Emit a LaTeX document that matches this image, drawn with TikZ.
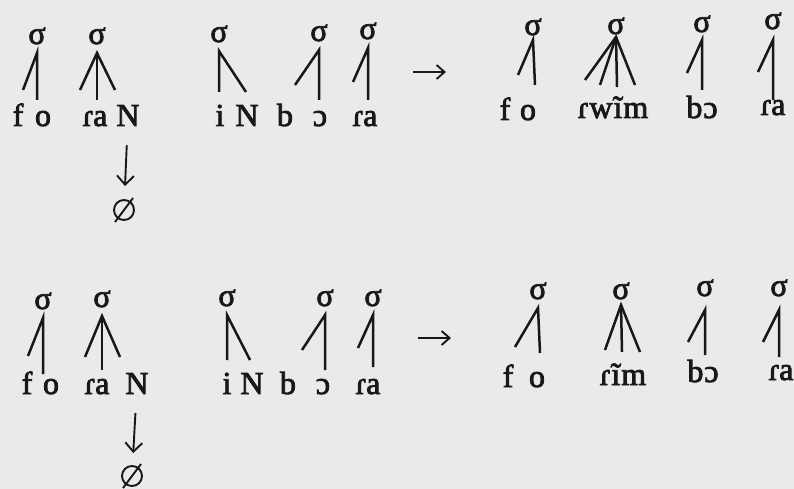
\documentclass[tikz,border=0pt]{standalone}
\usepackage{fontspec}
\setmainfont{Liberation Serif}
\usetikzlibrary{calc,arrows.meta}
\definecolor{paper}{HTML}{EAEAEA}
\definecolor{ink}{HTML}{181818}
\newcommand{\ipafnt}{\fontsize{32}{33}\selectfont\addfontfeature{FakeBold=2.5}}
\begin{document}
\begin{tikzpicture}[x=1pt,y=-1pt,
  seg/.style={font=\ipafnt, text=ink, anchor=base, inner xsep=0pt, inner ysep=4pt, text height=20pt, text depth=0pt},
  sig/.style={font=\ipafnt, text=ink, anchor=south, inner sep=0pt, outer ysep=#1, text height=14pt, text depth=0pt},
  sig/.default=9pt,
  tie/.style={draw=ink, line width=2.5pt},
  drop/.style={draw=ink, line width=1.9pt, -{Straight Barb[length=9pt,width=17pt]}},
  rarrow/.style={draw=ink, line width=1.9pt, -{Straight Barb[length=8pt,width=14pt]}},
  nullset/.style={draw=ink, circle, line width=1.9pt, minimum size=20pt, inner sep=0pt}]
\fill[paper] (0,0) rectangle (794,489);
\useasboundingbox (0,0) rectangle (794,489);

% ================= TOP ROW, LEFT =================
\node[sig] (tA) at (37,53) {σ};
\node[sig] (tB) at (97,53) {σ};
\node[sig] (tC) at (219,51) {σ};
\node[sig] (tD) at (319,50) {σ};
\node[sig] (tE) at (368,48) {σ};
\node[seg] (tf)  at (18,126) {f};
\node[seg] (to)  at (43,126) {o};
\node[seg] (tra) at (95,126) {ɾa};
\node[seg] (tN)  at (128,126) {N};
\node[seg] (ti)  at (220,126) {i};
\node[seg] (tN2) at (247,126) {N};
\node[seg] (tb)  at (285,126) {b};
\node[seg] (tO)  at (320,126) {ɔ};
\node[seg] (tra2) at (365,126) {ɾa};
\coordinate (tAl) at (23,90);   \coordinate (tAv) at (37,100);
\coordinate (tBl) at (80,90);   \coordinate (tBv) at (97,100);  \coordinate (tBr) at (115,90);
\coordinate (tCv) at (219,92);  \coordinate (tCr) at (246,92);
\coordinate (tDl) at (295,85);  \coordinate (tDv) at (319,100);
\coordinate (tEl) at (353,82);  \coordinate (tEv) at (368,100);
\draw[tie] (tAl) -- (tA.south) -- (tAv);
\draw[tie] (tBl) -- (tB.south) -- (tBr);
\draw[tie] (tB.south) -- (tBv);
\draw[tie] (tCv) -- (tC.south) -- (tCr);
\draw[tie] (tDl) -- (tD.south) -- (tDv);
\draw[tie] (tEl) -- (tE.south) -- (tEv);
\node[nullset] (tnull) at (124,210) {};
\draw[ink, line width=1.9pt] ($(tnull.center)+(-9,12)$) -- ($(tnull.center)+(9,-12)$);
\draw[drop, shorten <=15pt, shorten >=13pt] (tN) -- (tnull);

\coordinate (tarrA) at (413,72); \coordinate (tarrB) at (446,72);
\draw[rarrow] (tarrA) -- (tarrB);

% ================= TOP ROW, RIGHT =================
\node[sig=5pt] (tF) at (533,40) {σ};
\node[sig=3pt] (tG) at (616,37) {σ};
\node[sig=8pt] (tH) at (702,40) {σ};
\node[sig=11pt] (tI) at (773,40) {σ};
\node[seg] (tf3) at (505,120) {f};
\node[seg] (to3) at (528,120) {o};
\node[seg] (trwim) at (613,118) {ɾ\kern1pt w\kern1pt ĩ\kern1pt m};
\node[seg] (tbO) at (702,118) {b\kern1pt ɔ};
\node[seg] (tra3) at (773,115) {ɾa};
\coordinate (tFl) at (518,75);  \coordinate (tFv) at (535,85);
\coordinate (tG1) at (585,80);  \coordinate (tG2) at (600,85);
\coordinate (tG3) at (617,87);  \coordinate (tG4) at (635,85);
\coordinate (tHl) at (687,73);  \coordinate (tHv) at (702,90);
\coordinate (tIl) at (758,72);  \coordinate (tIv) at (773,100);
\draw[tie] (tFl) -- (tF.south) -- (tFv);
\draw[tie] (tG1) -- (tG.south) -- (tG4);
\draw[tie] (tG.south) -- (tG2);
\draw[tie] (tG.south) -- (tG3);
\draw[tie] (tHl) -- (tH.south) -- (tHv);
\draw[tie] (tIl) -- (tI.south) -- (tIv);

% ================= BOTTOM ROW, LEFT =================
\node[sig] (bA) at (43,318) {σ};
\node[sig] (bB) at (102,316) {σ};
\node[sig] (bC) at (227,315) {σ};
\node[sig] (bD) at (325,315) {σ};
\node[sig] (bE) at (373,315) {σ};
\node[seg] (bf)  at (27,394) {f};
\node[seg] (bo)  at (51,394) {o};
\node[seg] (bra) at (97,394) {ɾa};
\node[seg] (bN)  at (137,394) {N};
\node[seg] (bi)  at (227,394) {i};
\node[seg] (bN2) at (252,394) {N};
\node[seg] (bb)  at (288,394) {b};
\node[seg] (bO)  at (323,394) {ɔ};
\node[seg] (bra2) at (368,394) {ɾa};
\coordinate (bAl) at (28,356);  \coordinate (bAv) at (43,374);
\coordinate (bBl) at (85,357);  \coordinate (bBv) at (102,370); \coordinate (bBr) at (120,357);
\coordinate (bCv) at (227,360); \coordinate (bCr) at (250,360);
\coordinate (bDl) at (302,350); \coordinate (bDv) at (325,370);
\coordinate (bEl) at (358,348); \coordinate (bEv) at (373,367);
\draw[tie] (bAl) -- (bA.south) -- (bAv);
\draw[tie] (bBl) -- (bB.south) -- (bBr);
\draw[tie] (bB.south) -- (bBv);
\draw[tie] (bCv) -- (bC.south) -- (bCr);
\draw[tie] (bDl) -- (bD.south) -- (bDv);
\draw[tie] (bEl) -- (bE.south) -- (bEv);
\node[nullset] (bnull) at (132,476) {};
\draw[ink, line width=1.9pt] ($(bnull.center)+(-9,12)$) -- ($(bnull.center)+(9,-12)$);
\draw[drop, shorten <=15pt, shorten >=12pt] (bN) -- (bnull);

\coordinate (barrA) at (418,338); \coordinate (barrB) at (451,338);
\draw[rarrow] (barrA) -- (barrB);

% ================= BOTTOM ROW, RIGHT =================
\node[sig=9pt] (bF) at (538,308) {σ};
\node[sig=6pt] (bG) at (621,305) {σ};
\node[sig=14pt] (bH) at (705,310) {σ};
\node[sig=14pt] (bI) at (779,310) {σ};
\node[seg] (bf3) at (508,387) {f};
\node[seg] (bo3) at (537,387) {o};
\node[seg] (brim) at (623,385) {ɾ\kern1pt ĩ\kern1pt m};
\node[seg] (bbO) at (703,382) {b\kern1pt ɔ};
\node[seg] (bra3) at (781,380) {ɾa};
\coordinate (bFl) at (515,347); \coordinate (bFv) at (540,353);
\coordinate (bG1) at (605,350); \coordinate (bG2) at (622,352); \coordinate (bG3) at (640,352);
\coordinate (bHl) at (688,342); \coordinate (bHv) at (705,355);
\coordinate (bIl) at (763,342); \coordinate (bIv) at (779,357);
\draw[tie] (bFl) -- (bF.south) -- (bFv);
\draw[tie] (bG1) -- (bG.south) -- (bG3);
\draw[tie] (bG.south) -- (bG2);
\draw[tie] (bHl) -- (bH.south) -- (bHv);
\draw[tie] (bIl) -- (bI.south) -- (bIv);
\end{tikzpicture}
\end{document}
